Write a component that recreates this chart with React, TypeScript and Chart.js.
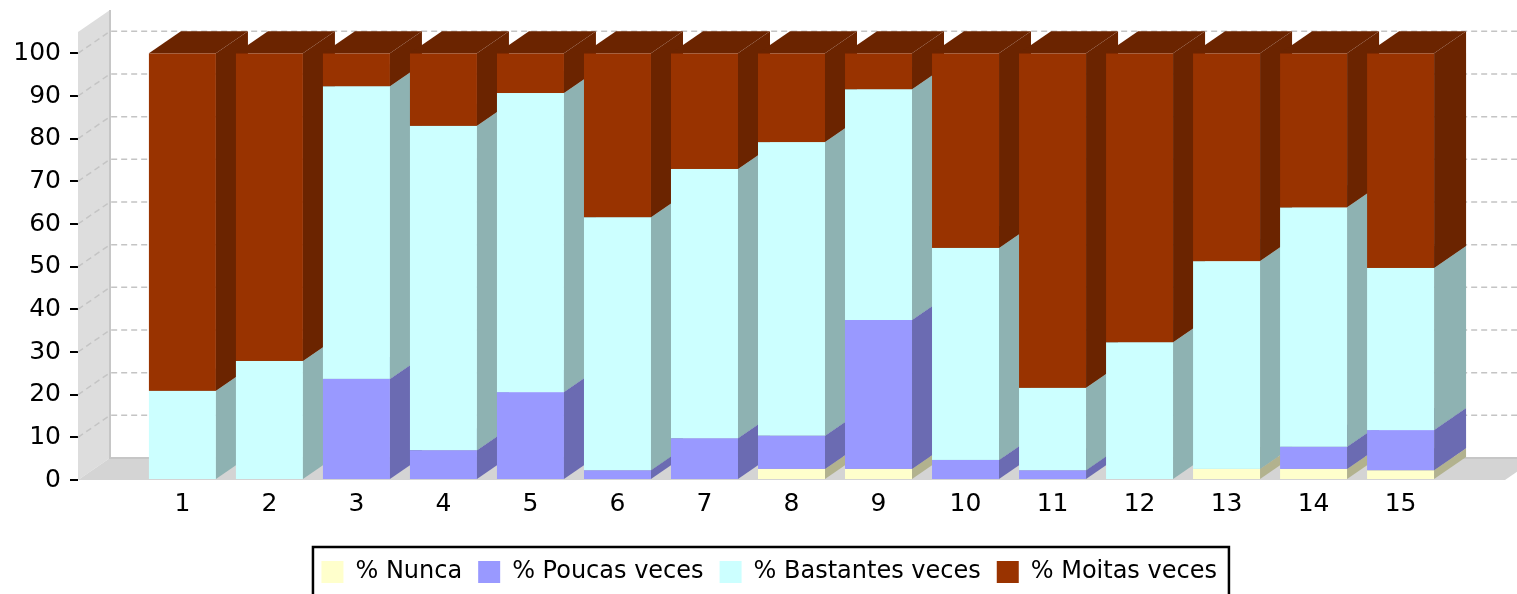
import { useEffect, useRef } from 'react';
import { Chart, registerables } from 'chart.js';

Chart.register(...registerables);

// ---- data ----
const categories = [1, 2, 3, 4, 5, 6, 7, 8, 9, 10, 11, 12, 13, 14, 15];
const seriesNames = ['% Nunca', '% Poucas veces', '% Bastantes veces', '% Moitas veces'];
const nunca = [0, 0, 0, 0, 0, 0, 0, 2.6, 2.6, 0, 0, 0, 2.6, 2.6, 2.3];
const poucas = [0, 0, 23.7, 7.0, 20.6, 2.3, 9.8, 7.8, 34.9, 4.7, 2.3, 0, 0, 5.2, 9.4];
const bastantes = [20.9, 27.9, 68.6, 76.0, 70.1, 59.3, 63.1, 68.8, 54.1, 49.7, 19.3, 32.3, 48.7, 56.1, 38.0];
const moitas = [79.1, 72.1, 7.7, 17.0, 9.3, 38.4, 27.1, 20.8, 8.4, 45.6, 78.4, 67.7, 48.7, 36.1, 50.3];
const yTicks = [0, 10, 20, 30, 40, 50, 60, 70, 80, 90, 100];

// ---- style ----
const FONT = 'DejaVu Sans';
const frontColors = ['#FFFFCC', '#9999FF', '#CCFFFF', '#993300'];
const darkColors = ['#B2B28E', '#6B6BB2', '#8EB2B2', '#6B2400'];
const WALL = '#DDDDDD';
const FLOOR = '#D4D4D4';
const EDGE = '#C6C6C6';
const GRID = '#C4C4C4';
const DX = 32;
const DY = -22;
const LEGEND_SHIFT = 10.7;

function poly(ctx: CanvasRenderingContext2D, pts: number[][], fill: string) {
  ctx.beginPath();
  ctx.moveTo(pts[0][0], pts[0][1]);
  for (let i = 1; i < pts.length; i++) ctx.lineTo(pts[i][0], pts[i][1]);
  ctx.closePath();
  ctx.fillStyle = fill;
  ctx.fill();
}

const threeD = {
  id: 'threeD',
  afterLayout(chart: any) {
    const lg = chart.legend;
    if (lg) {
      lg.left += LEGEND_SHIFT;
      lg.right += LEGEND_SHIFT;
    }
  },
  beforeDatasetsDraw(chart: any) {
    const { ctx, chartArea: a, scales } = chart;
    const ys = scales.y;
    const L = a.left;
    const R = a.right;
    const T = a.top;
    const B = ys.getPixelForValue(0);
    ctx.save();
    // walls
    poly(ctx, [[L, B], [L, T], [L + DX, T + DY], [L + DX, B + DY]], WALL);
    poly(ctx, [[L, B], [R, B], [R + DX, B + DY], [L + DX, B + DY]], FLOOR);
    ctx.strokeStyle = EDGE;
    ctx.lineWidth = 2;
    ctx.beginPath();
    ctx.moveTo(L + DX, T + DY);
    ctx.lineTo(L + DX, B + DY);
    ctx.lineTo(R + DX + 20, B + DY);
    ctx.stroke();
    // grid lines
    ctx.setLineDash([6, 4]);
    ctx.strokeStyle = GRID;
    ctx.lineWidth = 1.5;
    ys.ticks.forEach((t: any) => {
      if (t.value <= 0) return;
      const p = ys.getPixelForValue(t.value);
      ctx.beginPath();
      ctx.moveTo(L, p);
      ctx.lineTo(L + DX, p + DY);
      ctx.lineTo(R + DX + 20, p + DY);
      ctx.stroke();
    });
    ctx.setLineDash([]);
    // bars
    const n = chart.data.datasets.length;
    const metas = chart.data.datasets.map((_: any, d: number) => chart.getDatasetMeta(d));
    for (let i = 0; i < categories.length; i++) {
      for (let d = 0; d < n; d++) {
        const raw = chart.data.datasets[d].data[i];
        if (!raw || !raw.y) continue;
        const el = metas[d].data[i];
        const { x, y, base, width } = el.getProps(['x', 'y', 'base', 'width'], true);
        const x0 = x - width / 2;
        const x1 = x + width / 2;
        ctx.fillStyle = frontColors[d];
        ctx.fillRect(x0, y, width, base - y);
        poly(ctx, [[x1, y], [x1 + DX, y + DY], [x1 + DX, base + DY], [x1, base]], darkColors[d]);
        poly(ctx, [[x0, y], [x0 + DX, y + DY], [x1 + DX, y + DY], [x1, y]], darkColors[d]);
      }
    }
    ctx.restore();
    return false;
  },
  afterDraw(chart: any) {
    const hb = chart.legend?.legendHitBoxes;
    if (!hb || !hb.length) return;
    const { ctx } = chart;
    const last = hb[hb.length - 1];
    const left = hb[0].left - 8.5;
    const right = last.left + last.width + 12;
    const top = hb[0].top - 13;
    ctx.save();
    ctx.strokeStyle = '#000';
    ctx.lineWidth = 2.5;
    ctx.strokeRect(left, top, right - left, chart.height + 20 - top);
    ctx.restore();
  },
};

export default function App() {
  const ref = useRef<HTMLCanvasElement>(null);
  useEffect(() => {
    document.body.style.margin = '0';
    const series = [nunca, poucas, bastantes, moitas];
    const chart = new Chart(ref.current as HTMLCanvasElement, {
      type: 'bar',
      data: {
        datasets: series.map((vals, d) => ({
          label: seriesNames[d],
          data: categories.map((c, i) => ({ x: c, y: vals[i] })),
          backgroundColor: frontColors[d],
          borderWidth: 0,
          barPercentage: 0.77,
          categoryPercentage: 1,
        })),
      },
      options: {
        responsive: false,
        animation: false,
        devicePixelRatio: 1,
        layout: { padding: { left: 12, right: 12, top: 32, bottom: 0 } },
        scales: {
          x: {
            type: 'linear',
            min: -0.2,
            max: 16.2,
            stacked: true,
            offset: false,
            afterBuildTicks: (s: any) => {
              s.ticks = categories.map((v) => ({ value: v }));
            },
            afterFit: (s: any) => {
              s.height = 64;
            },
            grid: { display: false, drawTicks: false, offset: false },
            border: { display: false },
            ticks: { font: { family: FONT, size: 25 }, color: '#000', padding: 9, autoSkip: false, maxRotation: 0 },
          },
          y: {
            type: 'linear',
            min: 0,
            max: 105,
            stacked: true,
            afterBuildTicks: (s: any) => {
              s.ticks = yTicks.map((v) => ({ value: v }));
            },
            afterFit: (s: any) => {
              s.width = 66;
            },
            grid: { drawOnChartArea: false, drawTicks: true, tickLength: 8, color: '#000', lineWidth: 2 },
            border: { display: false },
            ticks: { font: { family: FONT, size: 25 }, color: '#000', padding: 9 },
          },
        },
        plugins: {
          tooltip: { enabled: false },
          legend: {
            position: 'bottom',
            labels: {
              font: { family: FONT, size: 24 },
              color: '#000',
              boxWidth: 22,
              boxHeight: 22,
              padding: 16,
            },
          },
        },
      } as any,
      plugins: [threeD],
    });
    return () => chart.destroy();
  }, []);
  return (
    <div style={{ width: 1517, height: 594 }}>
      <canvas ref={ref} width={1517} height={594} style={{ display: 'block' }} />
    </div>
  );
}
